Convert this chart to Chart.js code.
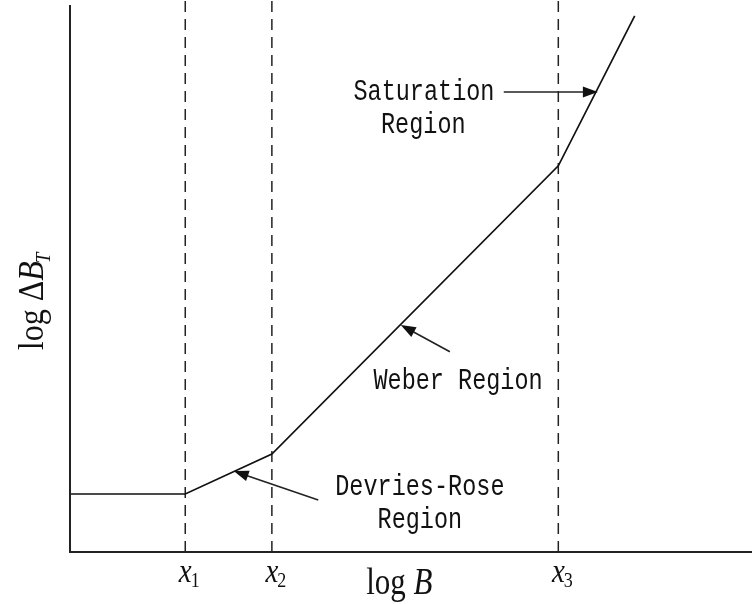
<!DOCTYPE html>
<html><head><meta charset="utf-8">
<script src="https://cdn.jsdelivr.net/npm/chart.js@4"></script>
<style>html,body{margin:0;padding:0;background:#fff;}#wrap{width:752px;height:604px;}</style>
</head><body><div id="wrap"><canvas id="c" width="752" height="604"></canvas></div>
<script>
// ---- data ----
const curveX = [0, 16.9, 29.6, 71.6, 82.8];
const curveY = [10.6, 10.6, 17.9, 70.6, 98.0];
const breakX = [16.9, 29.6, 71.6];
const breakSubs = ['1', '2', '3'];
const xTitle = ['log ', 'B'];
const yTitle = ['log \u0394', 'B', 'T'];
const regionTexts = [['Saturation', 'Region'], ['Weber Region'], ['Devries-Rose', 'Region']];

// ---- annotation placement (data units) ----
const annot = [
  {lines: [[51.9, 84.1], [51.8, 78.1]], from: [63.6, 84.1], to: [77.4, 84.1]},
  {lines: [[56.9, 31.3]], from: [55.7, 36.6], to: [48.5, 41.5]},
  {lines: [[51.3, 11.9], [51.3, 5.9]], from: [36.4, 9.5], to: [24.0, 14.8]}
];

function txt(ctx, s, x, y, font, align, sx, sy) {
  ctx.save();
  ctx.translate(x, y);
  ctx.scale(sx || 1, sy || 1);
  ctx.font = font;
  ctx.textAlign = align || 'center';
  ctx.textBaseline = 'middle';
  ctx.fillText(s, 0, 0);
  ctx.restore();
}
function arrow(ctx, x0, y0, x1, y1) {
  const a = Math.atan2(y1 - y0, x1 - x0), L = 15, W = 5.5;
  ctx.beginPath(); ctx.moveTo(x0, y0);
  ctx.lineTo(x1 - L * 0.8 * Math.cos(a), y1 - L * 0.8 * Math.sin(a)); ctx.stroke();
  ctx.beginPath();
  ctx.moveTo(x1, y1);
  ctx.lineTo(x1 - L * Math.cos(a) + W * Math.sin(a), y1 - L * Math.sin(a) - W * Math.cos(a));
  ctx.lineTo(x1 - L * Math.cos(a) - W * Math.sin(a), y1 - L * Math.sin(a) + W * Math.cos(a));
  ctx.closePath(); ctx.fill();
}

const deco = {
  id: 'deco',
  afterDraw(chart) {
    const ctx = chart.ctx, ca = chart.chartArea, xs = chart.scales.x, ys = chart.scales.y;
    ctx.save();
    ctx.strokeStyle = '#222'; ctx.fillStyle = '#111'; ctx.lineWidth = 2;
    ctx.beginPath(); ctx.moveTo(ca.left, ca.top); ctx.lineTo(ca.left, ca.bottom); ctx.lineTo(ca.right, ca.bottom); ctx.stroke();
    // tick labels
    breakX.forEach((v, i) => {
      const px = xs.getPixelForValue(v);
      txt(ctx, 'x', px, ca.bottom + 21, 'italic 29px "Liberation Serif"', 'center', 1, 1.15);
      txt(ctx, breakSubs[i], px + 10, ca.bottom + 30, '18px "Liberation Serif"', 'center', 1, 1.15);
    });
    // x title
    ctx.font = '31px "Liberation Serif"';
    const w1 = ctx.measureText(xTitle[0]).width;
    ctx.font = 'italic 31px "Liberation Serif"';
    const w2 = ctx.measureText(xTitle[1]).width;
    const cx = xs.getPixelForValue(48.3), x0 = cx - (w1 + w2) / 2;
    txt(ctx, xTitle[0], x0, ca.bottom + 32, '31px "Liberation Serif"', 'left', 1, 1.2);
    txt(ctx, xTitle[1], x0 + w1, ca.bottom + 32, 'italic 31px "Liberation Serif"', 'left', 1, 1.2);
    // y title
    ctx.save();
    ctx.translate(33, ys.getPixelForValue(46));
    ctx.rotate(-Math.PI / 2);
    ctx.scale(1, 1.15);
    ctx.textBaseline = 'alphabetic'; ctx.textAlign = 'left';
    ctx.font = '32px "Liberation Serif"';
    const a1 = ctx.measureText(yTitle[0]).width;
    ctx.font = 'italic 32px "Liberation Serif"';
    const a2 = ctx.measureText(yTitle[1]).width;
    ctx.font = 'italic 19px "Liberation Serif"';
    const a3 = ctx.measureText(yTitle[2]).width;
    let sx = -(a1 + a2 + a3) / 2;
    ctx.font = '32px "Liberation Serif"'; ctx.fillText(yTitle[0], sx, 9);
    ctx.font = 'italic 32px "Liberation Serif"'; ctx.fillText(yTitle[1], sx + a1, 9);
    ctx.font = 'italic 19px "Liberation Serif"'; ctx.fillText(yTitle[2], sx + a1 + a2 - 2, 15);
    ctx.restore();
    // region labels + arrows
    ctx.lineWidth = 1.6;
    annot.forEach((an, i) => {
      an.lines.forEach((p, j) => {
        txt(ctx, regionTexts[i][j], xs.getPixelForValue(p[0]), ys.getPixelForValue(p[1]), '23.5px "Liberation Mono"', 'center', 1, 1.25);
      });
      arrow(ctx, xs.getPixelForValue(an.from[0]), ys.getPixelForValue(an.from[1]), xs.getPixelForValue(an.to[0]), ys.getPixelForValue(an.to[1]));
    });
    ctx.restore();
  }
};

const datasets = [{
  data: curveX.map((x, i) => ({x: x, y: curveY[i]})),
  borderColor: '#111', borderWidth: 1.7, pointRadius: 0, tension: 0, clip: false
}];
breakX.forEach(v => datasets.push({
  data: [{x: v, y: 0}, {x: v, y: 100.9}],
  borderColor: '#222', borderWidth: 1.5, borderDash: [11, 7], pointRadius: 0, clip: false
}));

new Chart(document.getElementById('c'), {
  type: 'line',
  data: {datasets: datasets},
  options: {
    responsive: false, animation: false, devicePixelRatio: 1,
    layout: {padding: {left: 70, right: 0, top: 5, bottom: 52}},
    plugins: {legend: {display: false}, tooltip: {enabled: false}},
    scales: {
      x: {type: 'linear', min: 0, max: 100, display: false},
      y: {type: 'linear', min: 0, max: 100, display: false}
    }
  },
  plugins: [deco]
});
</script></body></html>
